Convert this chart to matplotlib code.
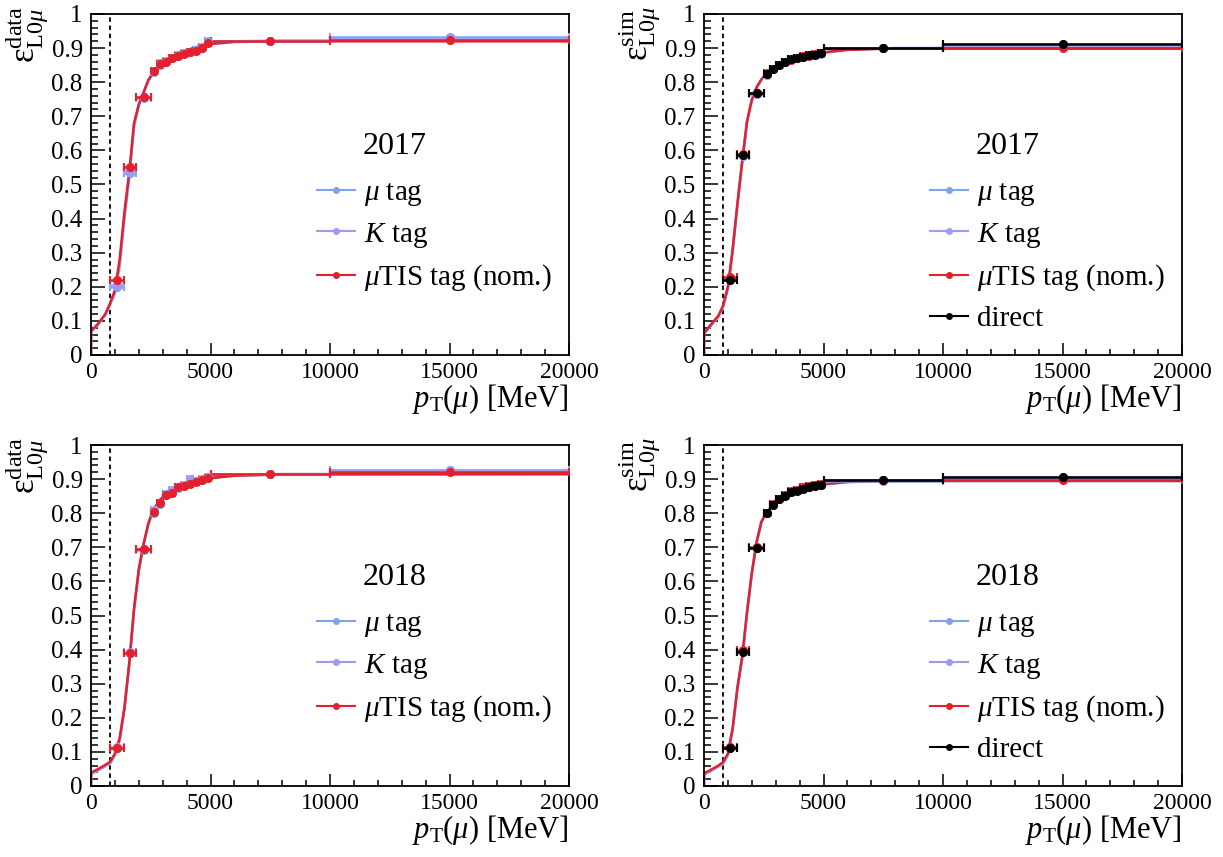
import matplotlib
matplotlib.use("Agg")
import matplotlib.pyplot as plt
from matplotlib.lines import Line2D
import numpy as np

plt.rcParams['font.family'] = ['Liberation Serif', 'DejaVu Serif']
plt.rcParams['mathtext.fontset'] = 'custom'
plt.rcParams['mathtext.rm'] = 'Liberation Serif'
plt.rcParams['mathtext.it'] = 'Liberation Serif:italic'
plt.rcParams['mathtext.bf'] = 'Liberation Serif:bold'

# pT binning of the efficiency points
bin_edges = [800, 1400, 1900, 2500, 2750, 3000, 3250, 3500, 3750, 4000,
             4250, 4500, 4750, 5000, 10000, 20000]

# nodes of the fitted turn-on curves
fit_pt = [0, 0, 300, 600, 800, 1000, 1200, 1400, 1600, 1800, 2000, 2200,
          2400, 2600, 2900, 3300, 3800, 4400, 5000, 6000, 8000, 20000]

# 2017 data
eff_17_mu = [0.200, 0.535, 0.755, 0.830, 0.850, 0.862, 0.872, 0.880, 0.885, 0.890, 0.895, 0.900, 0.918, 0.920, 0.934]
eff_17_k = [0.205, 0.540, 0.757, 0.832, 0.855, 0.860, 0.870, 0.878, 0.886, 0.889, 0.893, 0.902, 0.920, 0.921, 0.930]
eff_17_tis = [0.220, 0.550, 0.757, 0.834, 0.852, 0.858, 0.870, 0.877, 0.884, 0.889, 0.892, 0.901, 0.916, 0.921, 0.925]
fit_17_mu = [0, 0.068, 0.090, 0.118, 0.148, 0.180, 0.262, 0.400, 0.520, 0.670, 0.732, 0.770, 0.805, 0.828, 0.850, 0.870, 0.888, 0.903, 0.913, 0.919, 0.921, 0.921]
fit_17_k = [0, 0.069, 0.091, 0.119, 0.150, 0.185, 0.268, 0.410, 0.527, 0.675, 0.733, 0.770, 0.806, 0.829, 0.851, 0.871, 0.889, 0.903, 0.914, 0.920, 0.922, 0.922]
fit_17_tis = [0, 0.070, 0.092, 0.120, 0.152, 0.190, 0.280, 0.420, 0.535, 0.680, 0.735, 0.770, 0.806, 0.828, 0.850, 0.870, 0.888, 0.902, 0.912, 0.918, 0.920, 0.920]

# 2017 simulation
sim_17_mu = [0.222, 0.585, 0.765, 0.820, 0.838, 0.850, 0.858, 0.868, 0.871, 0.875, 0.879, 0.881, 0.884, 0.899, 0.912]
sim_17_k = [0.220, 0.586, 0.766, 0.822, 0.839, 0.851, 0.859, 0.867, 0.872, 0.876, 0.879, 0.882, 0.885, 0.899, 0.910]
sim_17_tis = [0.228, 0.590, 0.768, 0.826, 0.840, 0.850, 0.860, 0.866, 0.872, 0.876, 0.878, 0.882, 0.886, 0.899, 0.899]
sim_17_direct = [0.220, 0.587, 0.768, 0.824, 0.839, 0.851, 0.858, 0.868, 0.872, 0.875, 0.879, 0.881, 0.885, 0.900, 0.911]
simfit_17_mu = [0, 0.062, 0.087, 0.112, 0.142, 0.195, 0.305, 0.440, 0.565, 0.683, 0.747, 0.784, 0.807, 0.823, 0.840, 0.856, 0.869, 0.879, 0.887, 0.895, 0.900, 0.900]
simfit_17_k = [0, 0.063, 0.088, 0.113, 0.143, 0.197, 0.307, 0.442, 0.567, 0.684, 0.748, 0.785, 0.808, 0.824, 0.841, 0.857, 0.870, 0.880, 0.888, 0.896, 0.900, 0.900]
simfit_17_tis = [0, 0.065, 0.090, 0.115, 0.145, 0.200, 0.310, 0.445, 0.570, 0.685, 0.748, 0.785, 0.808, 0.824, 0.841, 0.857, 0.869, 0.879, 0.887, 0.895, 0.899, 0.899]

# 2018 data
eff_18_mu = [0.110, 0.390, 0.693, 0.800, 0.826, 0.855, 0.866, 0.874, 0.880, 0.889, 0.893, 0.898, 0.905, 0.915, 0.926]
eff_18_k = [0.113, 0.392, 0.695, 0.810, 0.830, 0.852, 0.868, 0.876, 0.882, 0.899, 0.894, 0.900, 0.906, 0.916, 0.927]
eff_18_tis = [0.112, 0.390, 0.695, 0.803, 0.829, 0.853, 0.860, 0.876, 0.880, 0.887, 0.892, 0.897, 0.903, 0.915, 0.920]
fit_18_mu = [0, 0.035, 0.046, 0.058, 0.066, 0.090, 0.135, 0.225, 0.355, 0.515, 0.632, 0.708, 0.768, 0.808, 0.839, 0.864, 0.884, 0.895, 0.903, 0.910, 0.914, 0.914]
fit_18_k = [0, 0.036, 0.047, 0.059, 0.068, 0.092, 0.137, 0.228, 0.358, 0.518, 0.633, 0.709, 0.769, 0.809, 0.840, 0.865, 0.885, 0.896, 0.904, 0.911, 0.915, 0.915]
fit_18_tis = [0, 0.039, 0.050, 0.062, 0.071, 0.095, 0.140, 0.230, 0.360, 0.520, 0.635, 0.710, 0.770, 0.810, 0.840, 0.865, 0.885, 0.895, 0.903, 0.910, 0.914, 0.915]

# 2018 simulation
sim_18_mu = [0.112, 0.395, 0.697, 0.800, 0.825, 0.842, 0.852, 0.862, 0.867, 0.872, 0.877, 0.882, 0.884, 0.895, 0.905]
sim_18_k = [0.113, 0.396, 0.698, 0.801, 0.826, 0.842, 0.852, 0.863, 0.868, 0.874, 0.878, 0.882, 0.884, 0.896, 0.904]
sim_18_tis = [0.115, 0.398, 0.700, 0.802, 0.826, 0.843, 0.853, 0.864, 0.869, 0.876, 0.879, 0.883, 0.885, 0.897, 0.898]
sim_18_direct = [0.110, 0.392, 0.698, 0.800, 0.825, 0.841, 0.851, 0.861, 0.866, 0.871, 0.876, 0.881, 0.883, 0.897, 0.905]
simfit_18_mu = [0, 0.034, 0.045, 0.057, 0.066, 0.090, 0.165, 0.285, 0.375, 0.507, 0.622, 0.713, 0.773, 0.799, 0.825, 0.849, 0.865, 0.876, 0.884, 0.891, 0.894, 0.894]
simfit_18_k = [0, 0.035, 0.046, 0.058, 0.067, 0.092, 0.167, 0.287, 0.377, 0.508, 0.623, 0.714, 0.774, 0.800, 0.826, 0.850, 0.866, 0.877, 0.885, 0.892, 0.895, 0.895]
simfit_18_tis = [0, 0.037, 0.048, 0.060, 0.070, 0.095, 0.170, 0.290, 0.380, 0.510, 0.625, 0.715, 0.775, 0.800, 0.826, 0.850, 0.866, 0.877, 0.885, 0.892, 0.895, 0.895]

pt_cut = 800

c_mu = '#7ca4f2'
c_k = '#9d9cf5'
c_tis = '#e3202b'
c_direct = 'black'

edges = np.array(bin_edges)
centers = 0.5 * (edges[1:] + edges[:-1])
half = 0.5 * (edges[1:] - edges[:-1])

lab_data = r'$\mathrm{\varepsilon}^{\rm data}_{{\rm L0}\mu}$'
lab_sim = r'$\mathrm{\varepsilon}^{\rm sim}_{{\rm L0}\mu}$'

panels = [
    (0, 0, '2017', lab_data,
     [(eff_17_mu, fit_17_mu, c_mu), (eff_17_k, fit_17_k, c_k), (eff_17_tis, fit_17_tis, c_tis)], None),
    (0, 1, '2017', lab_sim,
     [(sim_17_mu, simfit_17_mu, c_mu), (sim_17_k, simfit_17_k, c_k), (sim_17_tis, simfit_17_tis, c_tis)], sim_17_direct),
    (1, 0, '2018', lab_data,
     [(eff_18_mu, fit_18_mu, c_mu), (eff_18_k, fit_18_k, c_k), (eff_18_tis, fit_18_tis, c_tis)], None),
    (1, 1, '2018', lab_sim,
     [(sim_18_mu, simfit_18_mu, c_mu), (sim_18_k, simfit_18_k, c_k), (sim_18_tis, simfit_18_tis, c_tis)], sim_18_direct),
]

fig = plt.figure(figsize=(12.23, 8.57), dpi=100)
lefts = [91 / 1223, 704 / 1223]
bottoms = [1 - 355 / 857, 1 - 786 / 857]
w = 478 / 1223
h = 341 / 857

for row, col, year, ylab, series, direct in panels:
    ax = fig.add_axes([lefts[col], bottoms[row], w, h])

    for vals, fit, c in series:
        ax.plot(fit_pt, fit, color=c, lw=1.8, zorder=2)
        ax.errorbar(centers, vals, xerr=half, fmt='o', ms=5.5, color=c,
                    elinewidth=1.8, capsize=3, capthick=1.5, zorder=3)
    if direct is not None:
        ax.errorbar(centers, direct, xerr=half, fmt='o', ms=5.5, color=c_direct,
                    elinewidth=1.8, capsize=3, capthick=1.5, zorder=4)

    ax.axvline(pt_cut, color='black', lw=1.3, dashes=(2.5, 2), zorder=1)

    ax.set_xlim(0, 20000)
    ax.set_ylim(0, 1)
    ax.set_xticks([0, 5000, 10000, 15000, 20000])
    ax.set_xticks(np.arange(0, 20001, 1000), minor=True)
    ax.set_yticks(np.arange(0, 1.01, 0.1))
    ax.set_yticklabels(['0', '0.1', '0.2', '0.3', '0.4', '0.5', '0.6', '0.7', '0.8', '0.9', '1'])
    ax.set_yticks(np.arange(0, 1.001, 0.02), minor=True)
    ax.tick_params(axis='both', which='both', direction='in', top=False, right=False, width=1.1)
    ax.tick_params(axis='y', which='major', length=10, labelsize=18, pad=6)
    ax.tick_params(axis='y', which='minor', length=5)
    ax.tick_params(axis='x', which='major', length=8.5, labelsize=17, pad=5)
    ax.tick_params(axis='x', which='minor', length=4.3)
    for s in ax.spines.values():
        s.set_linewidth(1.3)

    ax.set_ylabel(ylab, fontsize=25, loc='top')
    ax.yaxis.set_label_coords(-0.085, 1.025)
    ax.set_xlabel(r'$p_{\rm T}(\mu)$ [MeV]', fontsize=22, loc='right')
    ax.xaxis.set_label_coords(1.0, -0.08)

    ax.text(0.635, 0.61, year, transform=ax.transAxes, ha='center', va='center', fontsize=23)

    handles = [Line2D([], [], color=c_mu, lw=1.5, marker='o', ms=4),
               Line2D([], [], color=c_k, lw=1.5, marker='o', ms=4),
               Line2D([], [], color=c_tis, lw=1.5, marker='o', ms=4)]
    labels = [r'$\mu$ tag', r'$K$ tag', r'$\mu$TIS tag (nom.)']
    if direct is not None:
        handles.append(Line2D([], [], color=c_direct, lw=1.5, marker='o', ms=4))
        labels.append('direct')
    ax.legend(handles, labels, loc='upper left', bbox_to_anchor=(0.473, 0.515),
              frameon=False, fontsize=21, handlelength=1.3, handletextpad=0.3,
              labelspacing=0.44, numpoints=1, borderaxespad=0, borderpad=0)

fig.savefig('out.png', dpi=100)
